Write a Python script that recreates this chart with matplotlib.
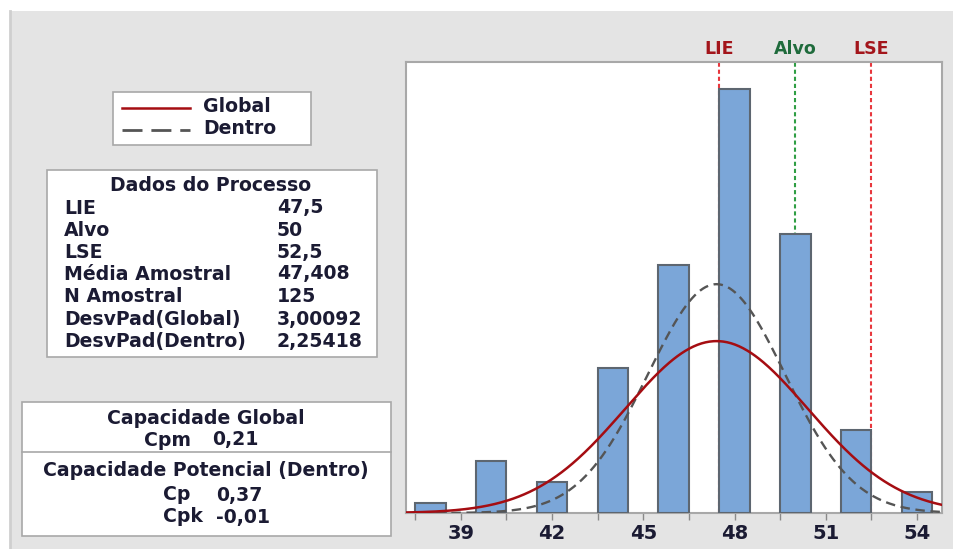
import numpy as np
import matplotlib
matplotlib.use("Agg")
import matplotlib.pyplot as plt
from matplotlib.patches import Rectangle
from matplotlib.lines import Line2D

plt.rcParams['font.family'] = ['DejaVu Sans']
plt.rcParams['font.weight'] = 'bold'

# Histogram data (class centres and frequencies)
bin_centers = [38, 40, 42, 44, 46, 48, 50, 52, 54]
counts = [1, 5, 3, 14, 24, 41, 27, 8, 2]
bin_width = 1.0

# Process data
lie, alvo, lse = 47.5, 50.0, 52.5
mean = 47.408
n = 125
sd_global = 3.00092
sd_within = 2.25418

process_labels = ["LIE", "Alvo", "LSE", "Média Amostral", "N Amostral",
                  "DesvPad(Global)", "DesvPad(Dentro)"]
process_values = ["47,5", "50", "52,5", "47,408", "125", "3,00092", "2,25418"]

x_ticks = [39, 42, 45, 48, 51, 54]

W, H = 954, 549
fig = plt.figure(figsize=(W / 100, H / 100), dpi=100)
fig.patch.set_facecolor("white")


def fx(px):
    return px / W


def fy(py):
    return 1 - py / H


# grey panel behind everything
fig.add_artist(Rectangle((fx(10), 0), 1 - fx(10), fy(11), transform=fig.transFigure,
                         facecolor="#e4e4e4", edgecolor="none", zorder=-10))
fig.add_artist(Line2D([fx(10.5), fx(10.5)], [0, fy(11)], transform=fig.transFigure,
                      color="#cfcfcf", lw=2, zorder=-9))

ax = fig.add_axes([fx(406), fy(513), fx(942) - fx(406), fy(62) - fy(513)])
ax.set_facecolor("white")

ax.bar(bin_centers, counts, width=bin_width, color="#7ba6d8", edgecolor="#5d6670",
       linewidth=1.5, zorder=3)

xs = np.linspace(37.2, 54.82, 400)


def normal_curve(x, mu, sd):
    return n * bin_width / (sd * np.sqrt(2 * np.pi)) * np.exp(-0.5 * ((x - mu) / sd) ** 2)


ax.plot(xs, normal_curve(xs, mean, sd_within), color="#555555", lw=1.7,
        dashes=(4, 2.4), zorder=4)
ax.plot(xs, normal_curve(xs, mean, sd_global), color="#a50d12", lw=1.8, zorder=5)

# specification lines and labels
for val, col, tcol, name in [(lie, "#e8373d", "#a3151b", "LIE"),
                             (alvo, "#2f9e44", "#1f6b3c", "Alvo"),
                             (lse, "#e8373d", "#a3151b", "LSE")]:
    ax.axvline(val, color=col, lw=1.5, dashes=(2, 1.4), zorder=2)
    ax.text(val, 1.0 + 13 / 451, name, transform=ax.get_xaxis_transform(),
            ha="center", va="center", fontsize=12.5, color=tcol, clip_on=False)

ax.set_xlim(37.2, 54.82)
ax.set_ylim(0, 43.6)
ax.set_yticks([])
ax.set_xticks(x_ticks)
ax.set_xticklabels([str(t) for t in x_ticks])
ax.set_xticks(np.arange(37.5, 54.8, 3), minor=True)
ax.tick_params(axis="x", which="both", direction="out", length=5, width=1,
               color="#8a8a8a", labelsize=14, labelcolor="#1b1b33", pad=3)
for s in ax.spines.values():
    s.set_color("#a8a8a8")
    s.set_linewidth(1.5)

txt_color = "#1b1b33"
fs = 13.6

# legend box
fig.add_artist(Rectangle((fx(113), fy(145)), fx(311) - fx(113), fy(92) - fy(145),
                         transform=fig.transFigure, facecolor="white",
                         edgecolor="#a8a8a8", lw=1.2))
fig.add_artist(Line2D([fx(122), fx(190)], [fy(108), fy(108)], transform=fig.transFigure,
                      color="#a50d12", lw=1.8))
fig.add_artist(Line2D([fx(122), fx(190)], [fy(130), fy(130)], transform=fig.transFigure,
                      color="#555555", lw=2, dashes=(7.2, 3.2)))
fig.text(fx(203), fy(106), "Global", fontsize=fs, color=txt_color, va="center")
fig.text(fx(203), fy(129), "Dentro", fontsize=fs, color=txt_color, va="center")

# process data box
fig.add_artist(Rectangle((fx(47), fy(357)), fx(377) - fx(47), fy(170) - fy(357),
                         transform=fig.transFigure, facecolor="white",
                         edgecolor="#a8a8a8", lw=1.2))
fig.text(fx(211), fy(186), "Dados do Processo", fontsize=fs, color=txt_color,
         ha="center", va="center")
row_y = [208, 230, 252, 274, 297, 319, 342]
for yy, lab, val in zip(row_y, process_labels, process_values):
    fig.text(fx(64), fy(yy), lab, fontsize=fs, color=txt_color, va="center")
    fig.text(fx(277), fy(yy), val, fontsize=fs, color=txt_color, va="center")

# capability box
fig.add_artist(Rectangle((fx(22), fy(536)), fx(391) - fx(22), fy(402) - fy(536),
                         transform=fig.transFigure, facecolor="white",
                         edgecolor="#a8a8a8", lw=1.2))
fig.add_artist(Line2D([fx(22), fx(391)], [fy(452), fy(452)], transform=fig.transFigure,
                      color="#a8a8a8", lw=1.2))
fig.text(fx(206), fy(418), "Capacidade Global", fontsize=fs, color=txt_color,
         ha="center", va="center")
fig.text(fx(144), fy(440), "Cpm", fontsize=fs, color=txt_color, va="center")
fig.text(fx(212), fy(440), "0,21", fontsize=fs, color=txt_color, va="center")
fig.text(fx(206), fy(470), "Capacidade Potencial (Dentro)", fontsize=fs,
         color=txt_color, ha="center", va="center")
fig.text(fx(163), fy(495), "Cp", fontsize=fs, color=txt_color, va="center")
fig.text(fx(216), fy(495), "0,37", fontsize=fs, color=txt_color, va="center")
fig.text(fx(163), fy(517), "Cpk", fontsize=fs, color=txt_color, va="center")
fig.text(fx(216), fy(517), "-0,01", fontsize=fs, color=txt_color, va="center")

fig.savefig("out.png", dpi=100)
